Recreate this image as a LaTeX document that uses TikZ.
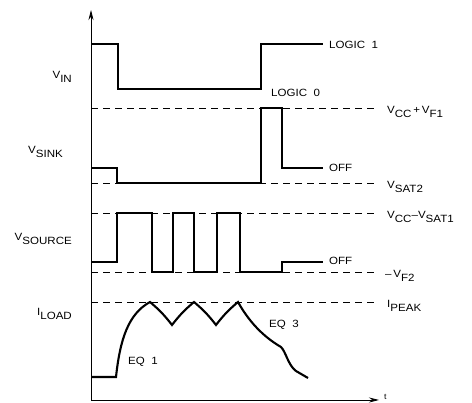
\documentclass[tikz,border=0pt]{standalone}
\usepackage{fontspec}
\setmainfont{Liberation Sans}[FakeStretch=1.1]
\usepackage{tikz}
\usetikzlibrary{arrows.meta}
\newcommand{\sg}[2]{#1\raisebox{-0.6ex}{#2}}

\begin{document}
\begin{tikzpicture}[
    x=1pt, y=-1pt,
    axis/.style={line width=0.9pt, -{Stealth[length=10pt, width=5pt]}},
    wave/.style={line width=2.4pt, line join=miter},
    level/.style={line width=0.7pt, dash pattern=on 7pt off 5pt},
    lbl/.style={font=\fontsize{10.5}{12}\selectfont, inner sep=1pt},
]
\useasboundingbox (0,0) rectangle (472,403);

\coordinate (o) at (91,400);
\coordinate (ytop) at (91,10);
\coordinate (xend) at (379,400);
\draw[axis] (o) -- (ytop);
\draw[axis] (o) -- (xend);
\node[lbl, anchor=west] (t) at (383,397) {\fontsize{8}{9}\selectfont t};

% reference levels
\draw[level] (91,108) -- (378,108);
\draw[level] (91,183) -- (378,183);
\draw[level] (91,213) -- (378,213);
\draw[level] (91,272) -- (378,272);
\draw[level] (91,302) -- (378,302);

% left labels
\node[lbl, anchor=east] (vin) at (73,77) {\sg{V}{IN}};
\node[lbl, anchor=east] (vsink) at (64,152) {\sg{V}{SINK}};
\node[lbl, anchor=east] (vsource) at (73,239) {\sg{V}{SOURCE}};
\node[lbl, anchor=east] (iload) at (73,314) {\sg{I}{LOAD}};

% right labels
\node[lbl, anchor=west] (vcf) at (386,112) {\sg{V}{CC}\,+\,\sg{V}{F1}};
\node[lbl, anchor=west] (vsat2) at (386,187) {\sg{V}{SAT2}};
\node[lbl, anchor=west] (vcs) at (386,217) {\sg{V}{CC}--\sg{V}{SAT1}};
\node[lbl, anchor=west] (vf2) at (384,276) {--\,\sg{V}{F2}};
\node[lbl, anchor=west] (ipeak) at (386,306) {\sg{I}{PEAK}};

% state labels
\node[lbl, anchor=west] (l1) at (328,45) {LOGIC\ \ 1};
\node[lbl, anchor=west] (l0) at (270,93) {LOGIC\ \ 0};
\node[lbl, anchor=west] (off1) at (328,168) {OFF};
\node[lbl, anchor=west] (off2) at (328,261) {OFF};
\node[lbl] (eq1) at (143,362) {EQ\ \ 1};
\node[lbl] (eq3) at (284,325) {EQ\ \ 3};

% waveforms
\draw[wave] (91,44) -- (118,44) -- (118,89) -- (261,89) -- (261,44) -- (323,44);
\draw[wave] (91,168) -- (117,168) -- (117,183) -- (261,183) -- (261,108)
    -- (282,108) -- (282,168) -- (323,168);
\draw[wave] (91,262) -- (117,262) -- (117,213) -- (152,213) -- (152,272)
    -- (173,272) -- (173,213) -- (194,213) -- (194,272) -- (217,272)
    -- (217,213) -- (240,213) -- (240,272) -- (282,272) -- (282,262) -- (323,262);
\draw[wave, line width=2.1pt] (91,377) -- (116,377)
    .. controls (120,340) and (128,314) .. (150,302)
    to[bend left=6] (172,325) to[bend left=6] (194,302)
    to[bend left=6] (216,325) to[bend left=6] (238,302)
    .. controls (248,320) and (262,336) .. (281,347)
    .. controls (286,352) and (288,365) .. (296,371)
    -- (308,378);
\end{tikzpicture}
\end{document}
